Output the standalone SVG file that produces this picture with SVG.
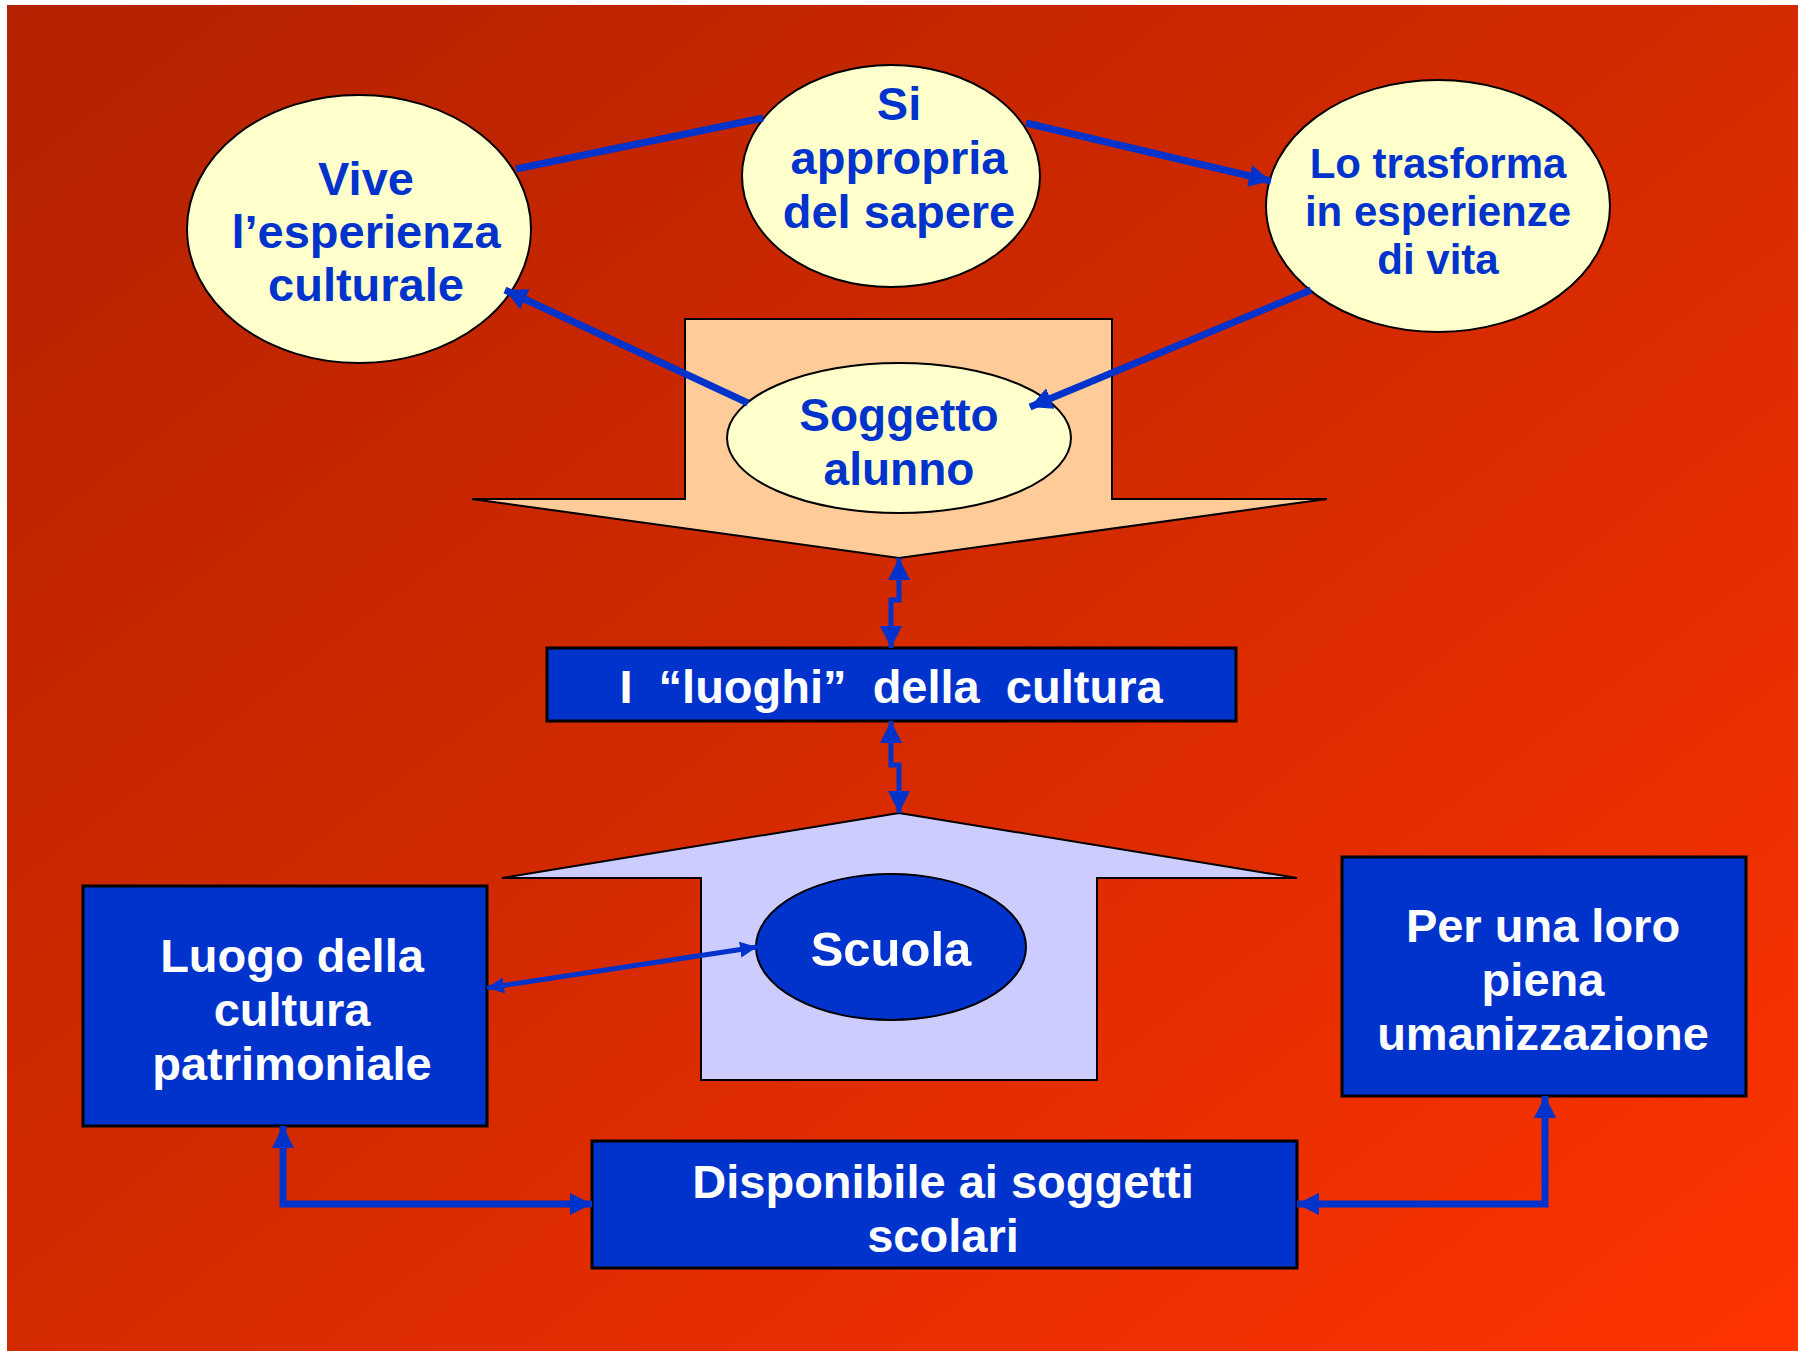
<svg xmlns="http://www.w3.org/2000/svg" width="1798" height="1351" viewBox="0 0 1798 1351">
<defs>
<linearGradient id="bg" x1="0" y1="0" x2="1" y2="1">
<stop offset="0" stop-color="#B32200"/>
<stop offset="0.5" stop-color="#D42A00"/>
<stop offset="1" stop-color="#FF3300"/>
</linearGradient>
<marker id="ah" markerUnits="userSpaceOnUse" markerWidth="24" markerHeight="22" refX="22" refY="11" orient="auto-start-reverse" viewBox="0 0 24 22">
<path d="M0,0 L22,11 L0,22 z" fill="#0033CC"/>
</marker>
<marker id="ahs" markerUnits="userSpaceOnUse" markerWidth="18" markerHeight="18" refX="17" refY="8" orient="auto-start-reverse" viewBox="0 0 18 16">
<path d="M0,0 L17,8 L0,16 z" fill="#0033CC"/>
</marker>
</defs>
<style>
.yel{fill:#FFFFCC;stroke:#000;stroke-width:2}
.box{fill:#0033CC;stroke:#000;stroke-width:3}
.bt{font-family:"Liberation Sans",Arial,sans-serif;font-weight:bold;fill:#0033CC;text-anchor:middle;font-size:47px}
.wt{font-family:"Liberation Sans",Arial,sans-serif;font-weight:bold;fill:#FFFFFF;text-anchor:middle;font-size:47px}
.con{fill:none;stroke:#0033CC;stroke-width:7}
.con2{fill:none;stroke:#0033CC;stroke-width:5}
</style>
<rect x="0" y="0" width="1798" height="1351" fill="#FFFFFF"/>
<rect x="7" y="5" width="1791" height="1346" fill="url(#bg)"/>

<g id="arrow-down">
<path d="M685,319 H1112 V499 H1327 L899,558 L472,499 H685 Z" fill="#FFCC99" stroke="#000" stroke-width="2"/>
</g>
<g id="arrow-up">
<path d="M899,813 L1297,878 H1097 V1080 H701 V878 H502 Z" fill="#CCCCFF" stroke="#000" stroke-width="2"/>
</g>

<g id="vive">
<ellipse class="yel" cx="359" cy="229" rx="172" ry="134"/>
<text class="bt" x="366" y="195">Vive</text>
<text class="bt" x="366" y="248">l’esperienza</text>
<text class="bt" x="366" y="301">culturale</text>
</g>
<g id="si-appropria">
<ellipse class="yel" cx="891" cy="176" rx="149" ry="111"/>
<text class="bt" x="899" y="120">Si</text>
<text class="bt" x="899" y="174">appropria</text>
<text class="bt" x="899" y="228">del sapere</text>
</g>
<g id="lo-trasforma">
<ellipse class="yel" cx="1438" cy="206" rx="172" ry="126"/>
<text class="bt" x="1438" y="178" style="font-size:42px">Lo trasforma</text>
<text class="bt" x="1438" y="226" style="font-size:42px">in esperienze</text>
<text class="bt" x="1438" y="274" style="font-size:42px">di vita</text>
</g>
<g id="soggetto">
<ellipse class="yel" cx="899" cy="438" rx="172" ry="75"/>
<text class="bt" x="899" y="431" style="font-size:46px">Soggetto</text>
<text class="bt" x="899" y="485" style="font-size:46px">alunno</text>
</g>
<g id="luoghi">
<rect class="box" x="547" y="648" width="689" height="73"/>
<text class="wt" x="891" y="703" style="white-space:pre">I  “luoghi”  della  cultura</text>
</g>
<g id="scuola">
<ellipse cx="891" cy="947" rx="135" ry="73" fill="#0033CC" stroke="#000" stroke-width="2"/>
<text class="wt" x="891" y="966" style="font-size:49px">Scuola</text>
</g>
<g id="luogo-cultura">
<rect class="box" x="83" y="886" width="404" height="240"/>
<text class="wt" x="292" y="972">Luogo della</text>
<text class="wt" x="292" y="1026">cultura</text>
<text class="wt" x="292" y="1080">patrimoniale</text>
</g>
<g id="umanizzazione">
<rect class="box" x="1342" y="857" width="404" height="239"/>
<text class="wt" x="1543" y="942">Per una loro</text>
<text class="wt" x="1543" y="996">piena</text>
<text class="wt" x="1543" y="1050">umanizzazione</text>
</g>
<g id="disponibile">
<rect class="box" x="592" y="1141" width="705" height="127"/>
<text class="wt" x="943" y="1198">Disponibile ai soggetti</text>
<text class="wt" x="943" y="1252">scolari</text>
</g>

<g id="connectors">
<line class="con" x1="516" y1="169" x2="763" y2="118"/>
<line class="con" x1="1026" y1="123" x2="1271" y2="181" marker-end="url(#ah)"/>
<line class="con" x1="748" y1="403" x2="505" y2="290" marker-end="url(#ah)"/>
<line class="con" x1="1311" y1="290" x2="1030" y2="407" marker-end="url(#ah)"/>
<path class="con2" d="M899,558 V600 H891 V648" marker-start="url(#ah)" marker-end="url(#ah)"/>
<path class="con2" d="M891,721 V765 H899 V813" marker-start="url(#ah)" marker-end="url(#ah)"/>
<line class="con2" x1="487" y1="988" x2="757" y2="947" marker-start="url(#ahs)" marker-end="url(#ahs)"/>
<path class="con" d="M283,1126 V1204 H592" marker-start="url(#ah)" marker-end="url(#ah)"/>
<path class="con" d="M1297,1204 H1545 V1096" marker-start="url(#ah)" marker-end="url(#ah)"/>
</g>
</svg>
